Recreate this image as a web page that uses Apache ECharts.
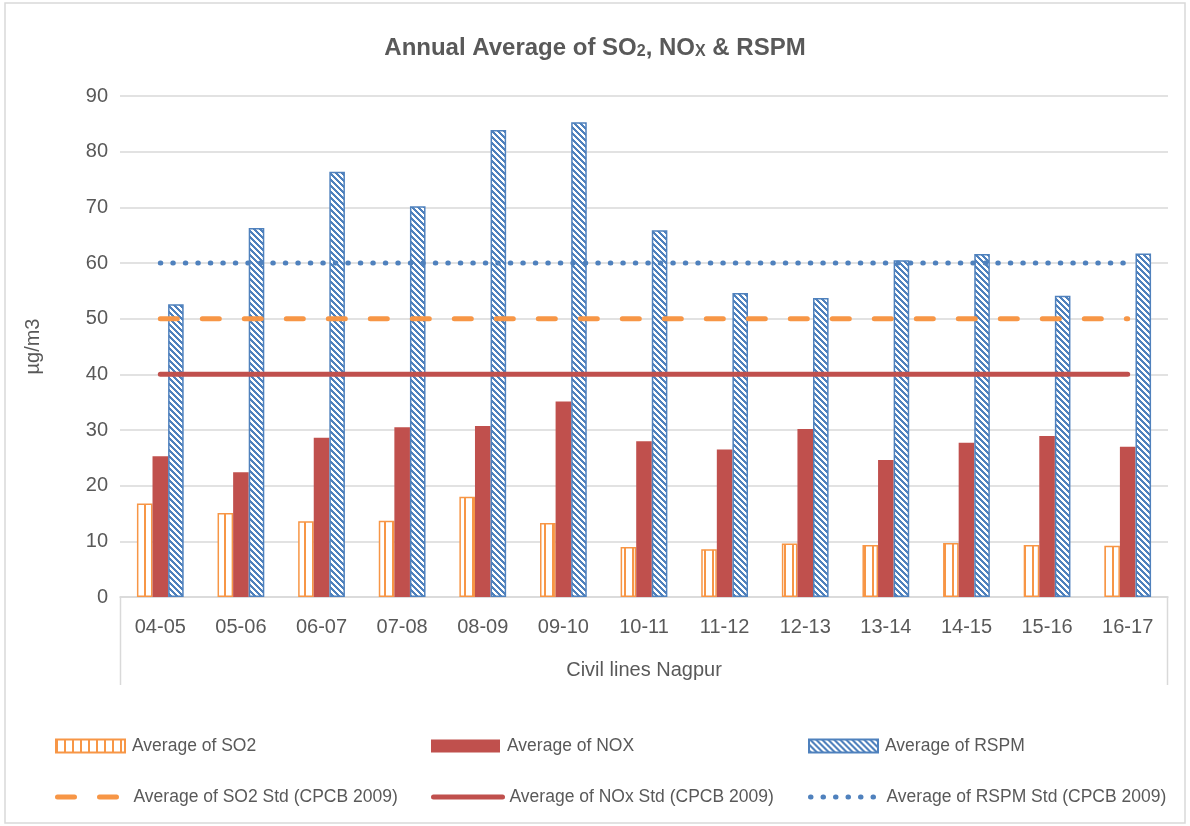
<!DOCTYPE html>
<html>
<head>
<meta charset="utf-8">
<style>
  html, body { margin: 0; padding: 0; background: #ffffff; }
  #chart { width: 1190px; height: 826px; }
</style>
<script src="https://cdn.jsdelivr.net/npm/echarts@6/dist/echarts.min.js"></script>
</head>
<body>
<div id="chart"></div>
<script>
// ---------------- data ----------------
const categories = ['04-05', '05-06', '06-07', '07-08', '08-09', '09-10', '10-11', '11-12', '12-13', '13-14', '14-15', '15-16', '16-17'];
const so2Values  = [16.8, 15.1, 13.6, 13.7, 18.0, 13.3, 9.0, 8.6, 9.6, 9.35, 9.7, 9.35, 9.2];
const noxValues  = [25.3, 22.4, 28.6, 30.5, 30.7, 35.1, 28.0, 26.5, 30.2, 24.6, 27.7, 28.9, 27.0];
const rspmValues = [52.6, 66.3, 76.4, 70.2, 83.9, 85.3, 65.9, 54.6, 53.7, 60.5, 61.6, 54.1, 61.7];
const so2Std  = [50, 50, 50, 50, 50, 50, 50, 50, 50, 50, 50, 50, 50];
const noxStd  = [40, 40, 40, 40, 40, 40, 40, 40, 40, 40, 40, 40, 40];
const rspmStd = [60, 60, 60, 60, 60, 60, 60, 60, 60, 60, 60, 60, 60];
const seriesNames = ['Average of SO2', 'Average of NOX', 'Average of RSPM',
  'Average of SO2 Std (CPCB 2009)', 'Average of NOx Std (CPCB 2009)', 'Average of RSPM Std (CPCB 2009)'];
const yMin = 0, yMax = 90, yInterval = 10;
const titleParts = ['Annual Average of SO', '2', ', NO', 'X', ' & RSPM'];
const xAxisName = 'Civil lines Nagpur';
const yAxisName = 'µg/m3';

// ---------------- styles ----------------
const W = 1190, H = 826;
const GRID = { left: 120, right: 22, top: 96, bottom: 229 };
const FONT = "'Liberation Sans',Arial,sans-serif";
const TXT = '#595959';
const ORANGE = '#F79646', RED = '#C0504D', BLUE = '#4F81BD';

function makePattern(w, h, fg, test) {
  const c = document.createElement('canvas');
  c.width = w; c.height = h;
  const ctx = c.getContext('2d');
  ctx.fillStyle = '#ffffff';
  ctx.fillRect(0, 0, w, h);
  ctx.fillStyle = fg;
  for (let y = 0; y < h; y++) for (let x = 0; x < w; x++) if (test(x, y)) ctx.fillRect(x, y, 1, 1);
  return c;
}
const so2Pattern = makePattern(8, 8, ORANGE, (x, y) => x % 8 < 2);
const rspmPattern = makePattern(6, 6, BLUE, (x, y) => ((x - y + 60) % 6) < 3);

const chart = echarts.init(document.getElementById('chart'), null, { renderer: 'canvas' });

const legendPos = [
  [55, 737], [431, 737], [808, 737],
  [55, 788], [431, 788], [808, 788]
];
const lineLegendStyles = [
  null, null, null,
  { color: ORANGE, width: 5, type: [17, 25], cap: 'round' },
  { color: RED, width: 5, type: 'solid', cap: 'round' },
  { color: BLUE, width: 5, type: [0.5, 12], cap: 'round' }
];
const legends = seriesNames.map((n, i) => {
  const lg = {
    data: [n],
    left: legendPos[i][0],
    top: legendPos[i][1],
    padding: 0,
    itemWidth: 69,
    itemHeight: 13,
    selectedMode: false,
    textStyle: { fontFamily: FONT, fontSize: 17.5, color: TXT, padding: [0, 0, 0, 2] }
  };
  if (i < 3) {
    lg.icon = 'rect';
  } else {
    lg.itemStyle = { color: 'rgba(0,0,0,0)', borderWidth: 0, opacity: 0 };
    lg.lineStyle = lineLegendStyles[i];
  }
  return lg;
});

const plotRight = W - GRID.right;
const plotBottom = H - GRID.bottom;

const option = {
  animation: false,
  backgroundColor: '#ffffff',
  title: {
    left: 'center',
    top: 27,
    text: '{m|' + titleParts[0] + '}{s|' + titleParts[1] + '}{m|' + titleParts[2] + '}{s|' + titleParts[3] + '}{m|' + titleParts[4] + '}',
    textStyle: {
      rich: {
        m: { fontFamily: FONT, fontSize: 24, fontWeight: 'bold', color: TXT, lineHeight: 28, verticalAlign: 'bottom' },
        s: { fontFamily: FONT, fontSize: 16, fontWeight: 'bold', color: TXT, lineHeight: 4, verticalAlign: 'bottom' }
      }
    }
  },
  legend: legends,
  grid: GRID,
  xAxis: {
    type: 'category',
    data: categories,
    boundaryGap: true,
    name: xAxisName,
    nameLocation: 'middle',
    nameGap: 63,
    nameTextStyle: { fontFamily: FONT, fontSize: 20, color: TXT },
    axisLine: { show: true, lineStyle: { color: '#d9d9d9', width: 1.5 } },
    axisTick: { show: false },
    axisLabel: { fontFamily: FONT, fontSize: 20, color: TXT, margin: 20 }
  },
  yAxis: {
    type: 'value',
    min: yMin, max: yMax, interval: yInterval,
    name: yAxisName,
    nameLocation: 'middle',
    nameGap: 77,
    nameRotate: 90,
    nameTextStyle: { fontFamily: FONT, fontSize: 20, color: TXT },
    axisLine: { show: false },
    axisTick: { show: false },
    axisLabel: { fontFamily: FONT, fontSize: 20, color: TXT, margin: 12 },
    splitLine: { lineStyle: { color: '#d9d9d9', width: 1.5 } }
  },
  graphic: [
    { type: 'rect', silent: true, shape: { x: 5, y: 3, width: W - 10, height: H - 6 },
      style: { fill: 'none', stroke: '#d9d9d9', lineWidth: 1.5 } },
    { type: 'line', silent: true, shape: { x1: GRID.left + 0.5, y1: plotBottom, x2: GRID.left + 0.5, y2: plotBottom + 88 },
      style: { stroke: '#d9d9d9', lineWidth: 1.5 } },
    { type: 'line', silent: true, shape: { x1: plotRight - 0.5, y1: plotBottom, x2: plotRight - 0.5, y2: plotBottom + 88 },
      style: { stroke: '#d9d9d9', lineWidth: 1.5 } }
  ],
  series: [
    {
      name: seriesNames[0], type: 'bar', data: so2Values,
      barGap: '0%', barCategoryGap: '42%',
      itemStyle: { color: { image: so2Pattern, repeat: 'repeat' }, borderColor: ORANGE, borderWidth: 1.5 }
    },
    {
      name: seriesNames[1], type: 'bar', data: noxValues,
      barGap: '0%', barCategoryGap: '42%',
      itemStyle: { color: RED }
    },
    {
      name: seriesNames[2], type: 'bar', data: rspmValues,
      barGap: '0%', barCategoryGap: '42%',
      itemStyle: { color: { image: rspmPattern, repeat: 'repeat' }, borderColor: BLUE, borderWidth: 1.5 }
    },
    {
      name: seriesNames[3], type: 'line', data: so2Std, symbol: 'none', showSymbol: false,
      itemStyle: { color: ORANGE },
      lineStyle: { color: ORANGE, width: 5, type: [17, 25], cap: 'round' }
    },
    {
      name: seriesNames[4], type: 'line', data: noxStd, symbol: 'none', showSymbol: false,
      itemStyle: { color: RED },
      lineStyle: { color: RED, width: 5, type: 'solid', cap: 'round' }
    },
    {
      name: seriesNames[5], type: 'line', data: rspmStd, symbol: 'none', showSymbol: false,
      itemStyle: { color: BLUE },
      lineStyle: { color: BLUE, width: 5, type: [0.5, 12], cap: 'round' }
    }
  ]
};
chart.setOption(option);
</script>
</body>
</html>
